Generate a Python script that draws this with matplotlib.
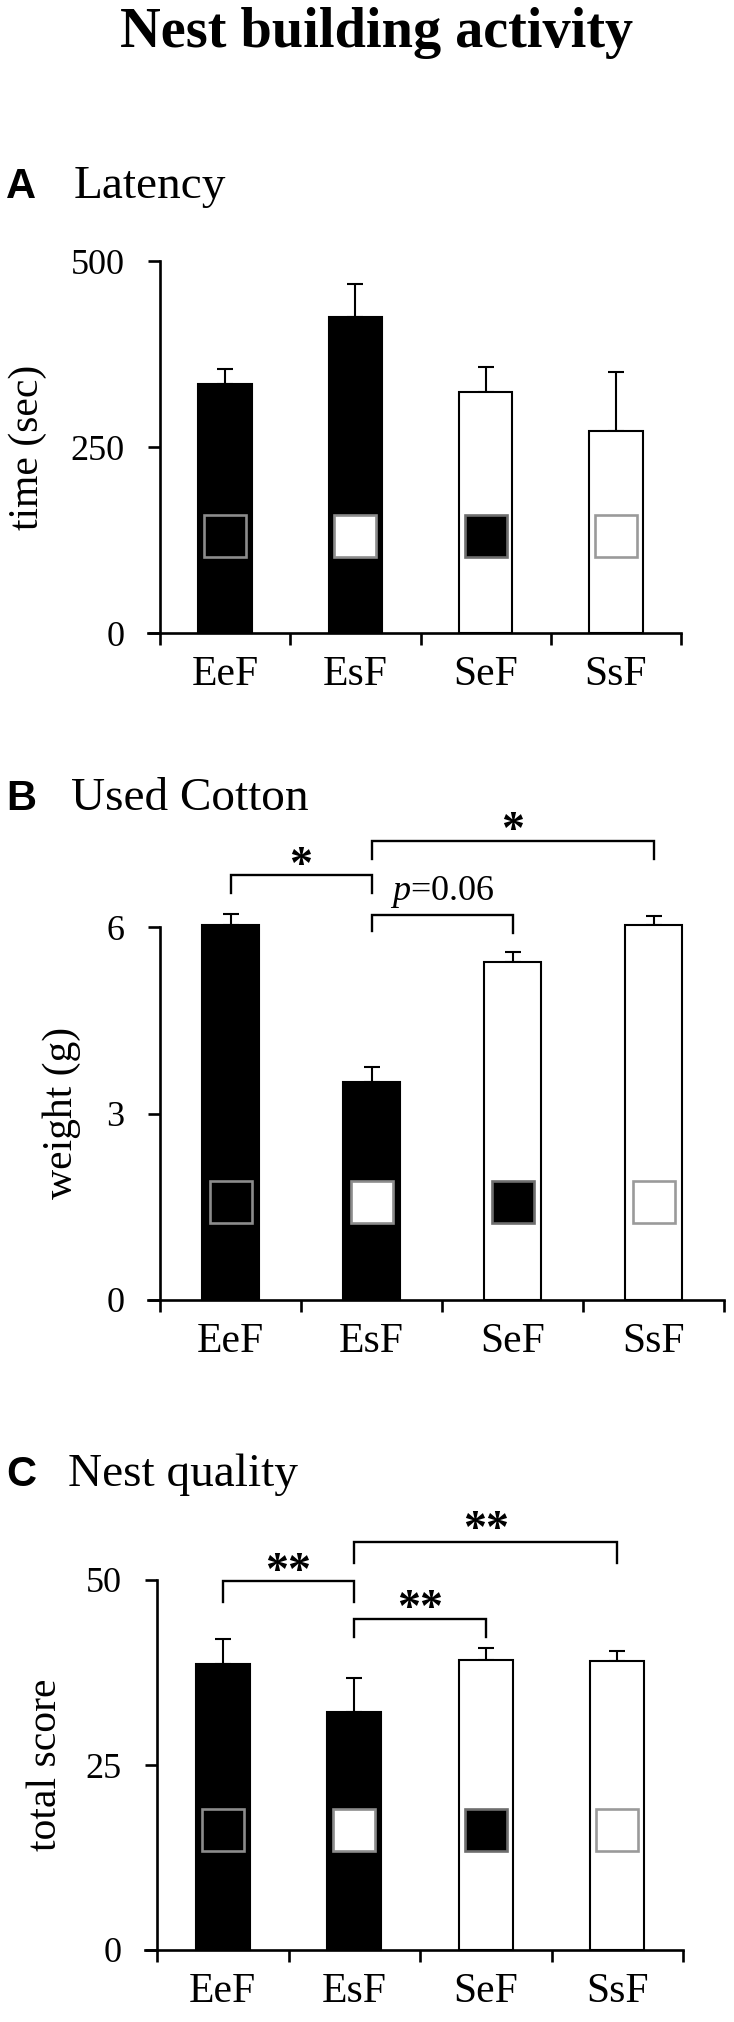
import matplotlib
matplotlib.use('Agg')
import matplotlib.pyplot as plt

# 字体：Times 风格的衬线体 + Arial 风格的面板字母
plt.rcParams['font.family'] = ['Liberation Serif', 'DejaVu Serif']
plt.rcParams['mathtext.fontset'] = 'custom'
plt.rcParams['mathtext.rm'] = 'Liberation Serif'
plt.rcParams['mathtext.it'] = 'Liberation Serif:italic'

# ============================================================
# 数据
# ============================================================
categories = ['EeF', 'EsF', 'SeF', 'SsF']
bar_colors = ['black', 'black', 'white', 'white']
square_fill = ['black', 'white', 'black', 'white']
square_edge = ['#8c8c8c', '#8c8c8c', '#6e6e6e', '#9a9a9a']

latency_mean = [335, 425, 324, 271]
latency_sem = [20, 44, 33, 80]

cotton_mean = [6.03, 3.50, 5.44, 6.03]
cotton_sem = [0.18, 0.25, 0.15, 0.14]

quality_mean = [38.6, 32.2, 39.2, 39.1]
quality_sem = [3.4, 4.5, 1.6, 1.3]

# 显著性标记: (左组, 右组, 横线高度, 左腿底, 右腿底, 文字, 文字高度)
cotton_brackets = [
    (0, 1, 6.83, 6.54, 6.54, '*', 7.15),
    (1, 3, 7.39, 7.09, 7.09, '*', 7.71),
    (1, 2, 6.20, 5.93, 5.90, '$p$=0.06', 6.57),
]
quality_brackets = [
    (0, 1, 49.8, 47.0, 47.0, '**', 52.4),
    (1, 3, 55.1, 52.3, 52.3, '**', 58.1),
    (1, 2, 44.7, 42.3, 42.3, '**', 47.5),
]

# 图中小方块（组别图标）的纵向位置
latency_square_y = 130
cotton_square_y = 1.58
quality_square_y = 16.2

W, H = 734, 2022
fig = plt.figure(figsize=(W / 100, H / 100), dpi=100)

TICK_PT = 12 * 0.72


def add_panel(left, yaxis_x, right, top, bottom, means, sems, ymax, yticks,
              square_y, brackets=None):
    ax = fig.add_axes([left / W, 1 - bottom / H, (right - left) / W, (bottom - top) / H])
    spacing = (right - yaxis_x) / 4.0
    d = (yaxis_x - left) / spacing
    x = list(range(len(categories)))

    bars = ax.bar(x, means, width=0.41, color=bar_colors, edgecolor='black',
                  linewidth=1.5, zorder=2)
    for b in bars:
        b.set_clip_on(False)
    ax.errorbar(x, means, yerr=[[0] * len(means), sems], fmt='none',
                ecolor='black', elinewidth=1.5, capsize=5.8, capthick=1.5,
                zorder=1, clip_on=False)
    for xi, fc, ec in zip(x, square_fill, square_edge):
        ax.plot([xi], [square_y], marker='s', markersize=30, markerfacecolor=fc,
                markeredgecolor=ec, markeredgewidth=1.9, zorder=3)

    ax.set_xlim(-0.5 - d, 3.5)
    ax.set_ylim(0, ymax)
    for s in ['top', 'right']:
        ax.spines[s].set_visible(False)
    ax.spines['left'].set_position(('data', -0.5))
    ax.spines['left'].set_linewidth(1.9)
    ax.spines['bottom'].set_linewidth(1.9)

    ax.set_yticks(yticks)
    ax.set_yticklabels([str(t) for t in yticks], fontsize=26)
    ax.tick_params(axis='y', direction='out', length=TICK_PT, width=1.9, pad=17)

    ax.set_xticks(x)
    ax.set_xticklabels(categories, fontsize=30)
    ax.set_xticks([-0.5, 0.5, 1.5, 2.5, 3.5], minor=True)
    ax.tick_params(axis='x', which='major', length=0, pad=16)
    ax.tick_params(axis='x', which='minor', direction='out', length=TICK_PT, width=1.9)

    if brackets:
        for i, j, yt, yl, yr, label, ty in brackets:
            ax.plot([i, i, j, j], [yl, yt, yt, yr], color='black', lw=1.7,
                    clip_on=False, solid_joinstyle='miter')
            if label.startswith('*'):
                # 星号字形偏上，用基线加偏移让字形中心落在 ty
                ax.annotate(label, xy=((i + j) / 2, ty), xytext=(0, -16),
                            textcoords='offset points', ha='center', va='baseline',
                            fontsize=33, fontweight='bold', annotation_clip=False)
            else:
                ax.text((i + j) / 2, ty, label, ha='center', va='center', fontsize=26)
    return ax


# 面板 A
add_panel(148, 160, 681, 261, 633, latency_mean, latency_sem, 500, [0, 250, 500],
          latency_square_y)
# 面板 B
add_panel(148, 160, 724, 927, 1300, cotton_mean, cotton_sem, 6, [0, 3, 6],
          cotton_square_y, cotton_brackets)
# 面板 C
add_panel(145, 157, 683, 1580, 1950, quality_mean, quality_sem, 50, [0, 25, 50],
          quality_square_y, quality_brackets)

# 标题与面板名
fig.text(377 / W, 1 - 47 / H, 'Nest building activity', ha='center', va='baseline',
         fontsize=40.5, fontweight='bold')

panel_titles = [('A', 'Latency', 198, 74), ('B', 'Used Cotton', 810, 71),
                ('C', 'Nest quality', 1486, 68)]
for letter, name, base, name_x in panel_titles:
    fig.text(6 / W, 1 - base / H, letter, ha='left', va='baseline', fontsize=30,
             fontweight='bold', family='Liberation Sans')
    fig.text(name_x / W, 1 - base / H, name, ha='left', va='baseline', fontsize=34)

# 纵轴标题
ylabels = [('time (sec)', 28, 447), ('weight (g)', 62, 1113), ('total score', 46, 1765)]
for txt, xp, yp in ylabels:
    fig.text(xp / W, 1 - yp / H, txt, rotation=90, ha='center', va='center', fontsize=30)

fig.savefig('out.png', dpi=100)
